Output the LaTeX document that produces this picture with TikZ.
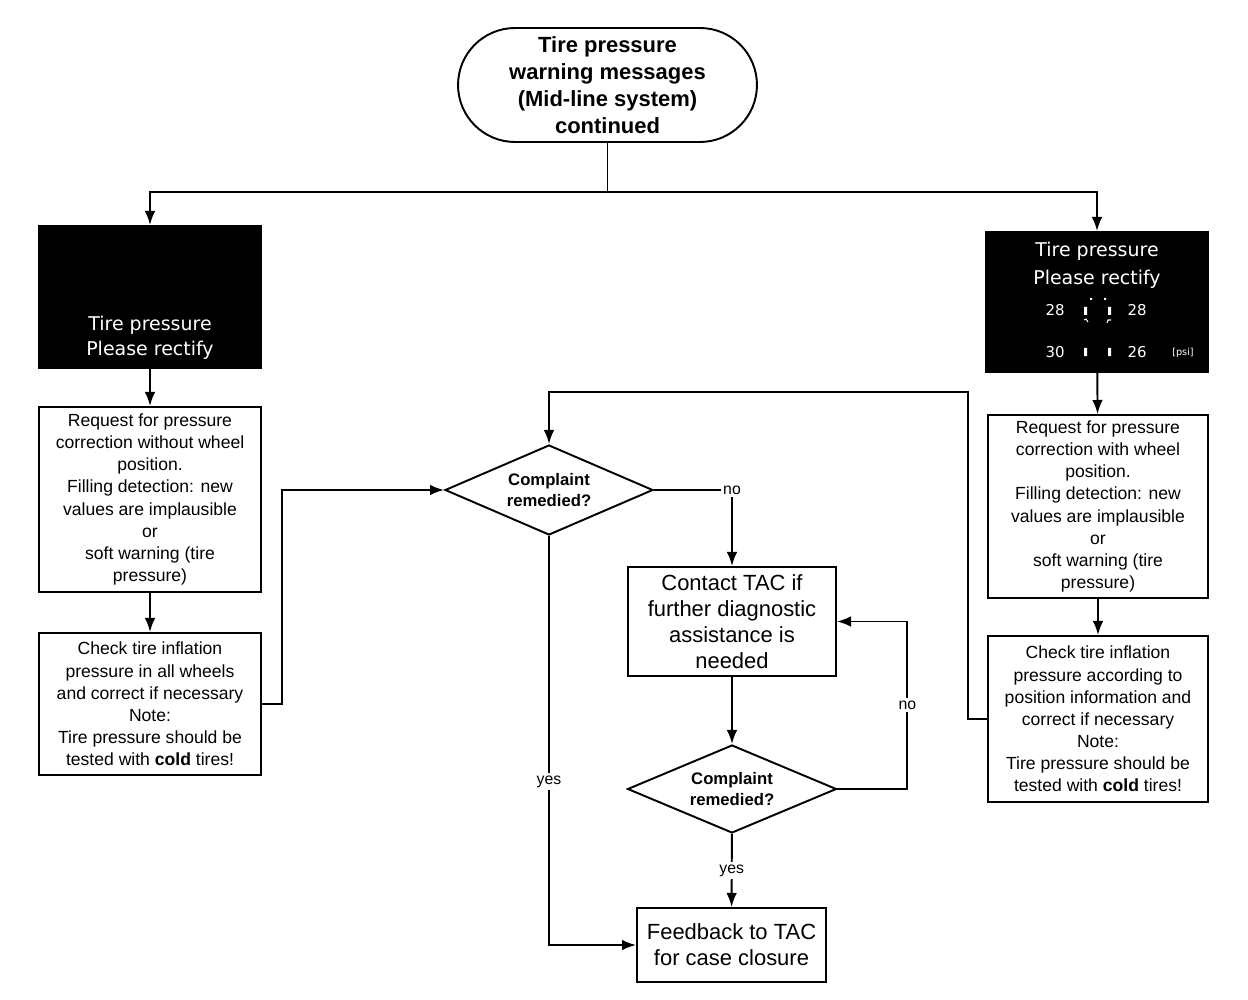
\documentclass[tikz,border=0pt]{standalone}
\usepackage{fontspec}
\setmainfont{Liberation Sans}
\newfontfamily\dispfont{DejaVu Sans}
\usetikzlibrary{shapes.geometric,arrows.meta}
\begin{document}
\begin{tikzpicture}[x=0.02cm,y=-0.02cm,line width=1.1pt,
		>={Latex[length=8pt,width=6pt]},
		procbox/.style={draw,align=center,inner sep=2pt,minimum width=4.44cm,font=\fontsize{10}{12.6}\selectfont},
		bigbox/.style={procbox,font=\fontsize{12.5}{14.9}\selectfont},
		warnbox/.style={fill=black,draw=black,minimum width=4.44cm},
		warntext/.style={text=white,align=center,inner sep=0pt},
		warnnum/.style={text=white,inner sep=0pt,font=\dispfont\fontsize{8.5}{10}\selectfont},
		decision/.style={draw,diamond,aspect=2.3,inner sep=0pt,align=center,font=\bfseries\fontsize{9.5}{12.3}\selectfont},
		lbl/.style={fill=white,inner sep=1.5pt,font=\fontsize{9}{11}\selectfont}]
		\useasboundingbox (0,0) rectangle (1248,1000);
		% start
		\node[draw,rounded corners=1.14cm,minimum width=5.98cm,minimum height=2.28cm,align=center,
			font=\bfseries\fontsize{12.5}{15.3}\selectfont] (title) at (607.5,85)
			{Tire pressure\\warning messages\\(Mid-line system)\\continued};
		\coordinate (split) at (607.5,192);
		% left branch
		\node[warnbox,minimum height=2.84cm] (lwarn) at (150,297) {};
		\node[warntext,font=\dispfont\fontsize{10.8}{14.2}\selectfont] (lwarnmsg) at (150,337.5) {Tire pressure\\Please rectify};
		\node[procbox,minimum height=3.7cm] (lreq) at (150,499.5) {Request for pressure\\correction without wheel\\position.\\Filling detection: new\\values are implausible\\or\\soft warning (tire\\pressure)};
		\node[procbox,minimum height=2.84cm] (lcheck) at (150,704) {Check tire inflation\\pressure in all wheels\\and correct if necessary\\Note:\\Tire pressure should be\\tested with \textbf{cold} tires!};
		% right branch
		\node[warnbox,minimum height=2.8cm] (rwarn) at (1097,302) {};
		\node[warntext,font=\dispfont\fontsize{10.8}{15.9}\selectfont] (rwarnmsg) at (1097,265) {Tire pressure\\Please rectify};
		\node[warnnum] (fl) at (1055,310) {28}; \node[warnnum] (fr) at (1137,310) {28};
		\node[warnnum] (rl) at (1055,352) {30}; \node[warnnum] (rr) at (1137,352) {26};
		\node[warnnum,font=\dispfont\fontsize{5.5}{7}\selectfont] (psi) at (1183,353) {[psi]};
		\fill[white] (1084,307) rectangle (1087,315) (1108,307) rectangle (1111,315)
			(1084,348) rectangle (1087,356) (1108,348) rectangle (1111,356)
			(1090,298) rectangle (1092,300) (1104,298) rectangle (1106,300);
		\draw[white,line width=0.6pt] (1084,320) -- (1086,319) -- (1088,322) (1107,323) -- (1108,320) -- (1111,320);
		\node[procbox,minimum width=4.4cm,minimum height=3.66cm] (rreq) at (1098,506.5) {Request for pressure\\correction with wheel\\position.\\Filling detection: new\\values are implausible\\or\\soft warning (tire\\pressure)};
		\node[procbox,minimum width=4.4cm,minimum height=3.32cm] (rcheck) at (1098,719) {Check tire inflation\\pressure according to\\position information and\\correct if necessary\\Note:\\Tire pressure should be\\tested with \textbf{cold} tires!};
		% middle
		\node[decision,minimum width=4.16cm,minimum height=1.8cm] (dec1) at (549,490) {Complaint\\remedied?};
		\node[bigbox,minimum width=4.16cm,minimum height=2.18cm] (contact) at (732,621.5) {Contact TAC if\\further diagnostic\\assistance is\\needed};
		\node[decision,minimum width=4.18cm,minimum height=1.76cm] (dec2) at (732,789) {Complaint\\remedied?};
		\node[bigbox,minimum width=3.78cm,minimum height=1.48cm] (feedback) at (731.5,945) {Feedback to TAC\\for case closure};
		\coordinate (loop) at (968,392);
		% connectors
		\draw (title) -- (split);
		\draw[->] (split) -| (lwarn.north);
		\draw[->] (split) -| (rwarn.north);
		\draw[->] (lwarn) -- (lreq);
		\draw[->] (lreq) -- (lcheck);
		\draw[->] (rwarn) -- (rreq);
		\draw[->] (rreq) -- (rcheck);
		\draw[->] (lcheck.east) -- ++(20,0) |- (dec1.west);
		\draw[->] (rcheck.west) -| (loop) -| (dec1.north);
		\draw[->] (dec1.east) -| node[lbl,pos=0.5] {no} (contact.north);
		\draw[->] (contact) -- (dec2);
		\draw[->] (dec2.east) -- ++(70,0) |- node[lbl,pos=0.25] {no} (contact.east);
		\draw[->] (dec2) -- node[lbl] {yes} (feedback);
		\draw[->] (dec1.south) |- node[lbl,pos=0.3] {yes} (feedback.west);
	\end{tikzpicture}
\end{document}
